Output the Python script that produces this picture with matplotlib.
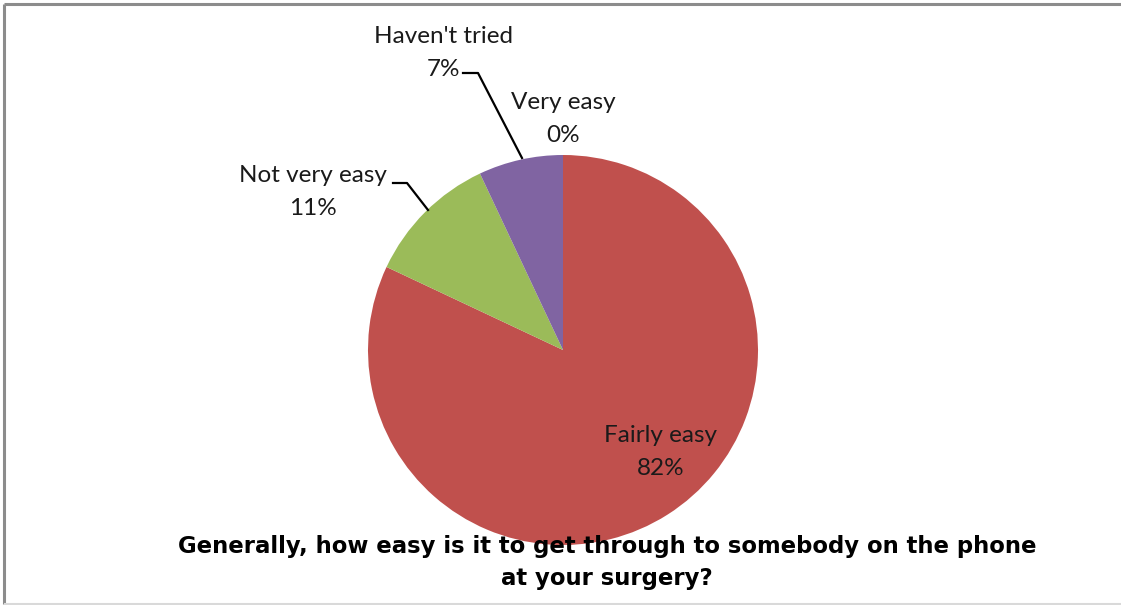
import matplotlib
matplotlib.use("Agg")
import matplotlib.pyplot as plt

categories = ["Very easy", "Fairly easy", "Not very easy", "Haven't tried"]
values = [0, 82, 11, 7]
colors = ["#4F81BD", "#C0504D", "#9BBB59", "#8064A2"]
title = "Generally, how easy is it to get through to somebody on the phone\nat your surgery?"

W, H = 1121, 605
fig = plt.figure(figsize=(W / 100, H / 100), dpi=100)
ax = fig.add_axes([0, 0, 1, 1])

cx, cy, r = 563, H - 350, 195
ax.pie(values, colors=colors, startangle=90, counterclock=False,
       center=(cx, cy), radius=r, frame=True,
       wedgeprops=dict(linewidth=0))
ax.set_xlim(0, W)
ax.set_ylim(0, H)
ax.set_aspect("equal")
ax.axis("off")

# border (top and left dark, bottom light)
ax.plot([4, W], [H - 4, H - 4], color="#8c8c8c", lw=2.2, solid_capstyle="butt")
ax.plot([4, 4], [H - 4, 1], color="#8c8c8c", lw=2.2, solid_capstyle="butt")
ax.plot([4, W], [1.5, 1.5], color="#d9d9d9", lw=1.5, solid_capstyle="butt")

font = "Lato"
fs = 17.5
lab = {c: f"{c}\n{v}%" for c, v in zip(categories, values)}
pos = {
    "Haven't tried": (443, 53),
    "Very easy": (563, 119),
    "Not very easy": (313, 192),
    "Fairly easy": (661, 452),
}
for c in categories:
    x, y = pos[c]
    ax.text(x, H - y, lab[c], ha="center", va="center", fontsize=fs,
            family=font, color="#1a1a1a", linespacing=1.7)

# leader lines
ax.plot([463, 478, 522], [H - 73, H - 73, H - 158], color="black", lw=1.6)
ax.plot([393, 407, 428], [H - 183, H - 183, H - 210], color="black", lw=1.6)

ax.text(607, H - 562, title, ha="center", va="center", fontsize=16.4,
        fontweight="bold", family="DejaVu Sans", color="black", linespacing=1.5)

fig.savefig("out.png", dpi=100)
